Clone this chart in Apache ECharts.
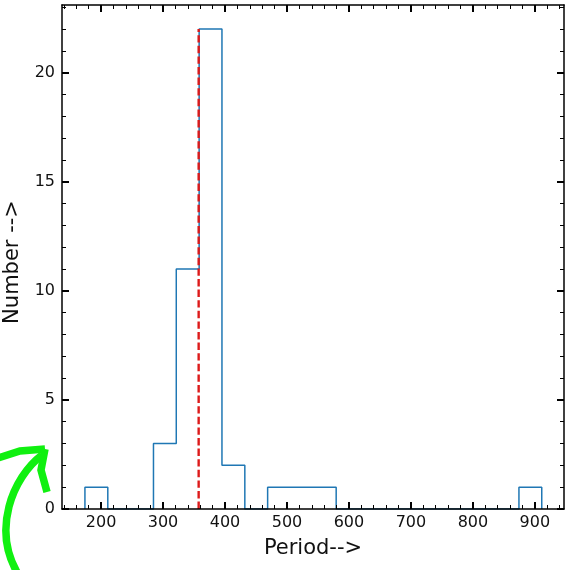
<!DOCTYPE html>
<html>
<head>
<meta charset="utf-8">
<script src="https://cdn.jsdelivr.net/npm/echarts@6/dist/echarts.min.js"></script>
<style>html,body{margin:0;padding:0;background:#fff}#c{width:577px;height:570px}</style>
</head>
<body>
<div id="c"></div>
<script>
// Histogram bin edges (Period) and counts
const binEdges = [174.0, 210.9, 247.7, 284.6, 321.4, 358.3, 395.1, 432.0, 468.8, 505.7, 542.6,
                  579.4, 616.3, 653.1, 690.0, 726.8, 763.7, 800.6, 837.4, 874.3, 911.1];
const binCounts = [1, 0, 0, 3, 11, 22, 2, 0, 1, 1, 1, 0, 0, 0, 0, 0, 0, 0, 0, 1];
// Reference (dashed red) period line
const refPeriod = 357.5;
const refTop = 22;
// Tick labels
const xTicks = [200, 300, 400, 500, 600, 700, 800, 900];
const yTicks = [0, 5, 10, 15, 20];

const xMin = 137, xMax = 947, yMin = 0, yMax = 23.1;

const xMinor = [];
for (let v = 140; v <= 940; v += 20) if (!xTicks.includes(v)) xMinor.push(v);
const yMinor = [];
for (let v = 1; v <= 23; v += 1) if (!yTicks.includes(v)) yMinor.push(v);

// step outline
const stepData = [[binEdges[0], 0]];
for (let i = 0; i < binCounts.length; i++) {
  stepData.push([binEdges[i], binCounts[i]]);
  stepData.push([binEdges[i + 1], binCounts[i]]);
}
stepData.push([binEdges[binEdges.length - 1], 0]);

const font = 'DejaVu Sans';
const tc = '#111';

function xAx(pos, ticks, len, width, labels, line) {
  return {
    type: 'value', position: pos, min: xMin, max: xMax, z: 6,
    axisLine: {show: line, onZero: false, lineStyle: {color: '#000', width: 1.5}},
    axisTick: {show: true, inside: true, length: len, customValues: ticks, lineStyle: {color: '#000', width: width}},
    axisLabel: {show: labels, customValues: ticks, margin: 6, fontFamily: font, fontSize: 16, color: tc},
    splitLine: {show: false}
  };
}
function yAx(pos, ticks, len, width, labels, line) {
  return {
    type: 'value', position: pos, min: yMin, max: yMax, z: 6,
    axisLine: {show: line, onZero: false, lineStyle: {color: '#000', width: 1.5}},
    axisTick: {show: true, inside: true, length: len, customValues: ticks, lineStyle: {color: '#000', width: width}},
    axisLabel: {show: labels, customValues: ticks, margin: 7, fontFamily: font, fontSize: 16, color: tc},
    splitLine: {show: false}
  };
}

const chart = echarts.init(document.getElementById('c'), null, {renderer: 'canvas'});
chart.setOption({
  animation: false,
  backgroundColor: '#fff',
  grid: {left: 62, right: 13, top: 5, bottom: 61, containLabel: false},
  xAxis: [
    xAx('bottom', xTicks, 7, 2, true, true),
    xAx('bottom', xMinor, 4, 1, false, false),
    xAx('top', xTicks, 7, 2, false, true),
    xAx('top', xMinor, 4, 1, false, false)
  ],
  yAxis: [
    yAx('left', yTicks, 7, 2, true, true),
    yAx('left', yMinor, 4, 1, false, false),
    yAx('right', yTicks, 7, 2, false, true),
    yAx('right', yMinor, 4, 1, false, false)
  ],
  series: [
    {
      type: 'line', xAxisIndex: 0, yAxisIndex: 0, data: stepData,
      symbol: 'none', lineStyle: {color: '#1f77b4', width: 1.5}, z: 3
    },
    {
      type: 'line', xAxisIndex: 0, yAxisIndex: 0, data: [[refPeriod, 0], [refPeriod, refTop]],
      symbol: 'none', lineStyle: {color: '#dd1a1a', width: 2.4, type: [7.4, 3.2]}, z: 4
    }
  ],
  graphic: [
    {type: 'text', x: 313, y: 549,
     style: {text: 'Period-->', align: 'center', verticalAlign: 'middle', fontFamily: font, fontSize: 21, fill: tc}},
    {type: 'text', rotation: Math.PI / 2, x: 13, y: 262,
     style: {text: 'Number -->', align: 'center', verticalAlign: 'middle', fontFamily: font, fontSize: 21, fill: tc}},
    {type: 'bezierCurve', shape: {x1: 42, y1: 455, cpx1: 12, cpy1: 478, cpx2: -8, cpy2: 530, x2: 18, y2: 574},
     style: {stroke: '#10f010', lineWidth: 7.5, fill: null}, z: 10},
    {type: 'polyline', shape: {points: [[-2, 458], [20, 451], [45, 449]]},
     style: {stroke: '#10f010', lineWidth: 7.5, fill: null}, z: 10},
    {type: 'polyline', shape: {points: [[45, 449], [41, 470], [47, 492]]},
     style: {stroke: '#10f010', lineWidth: 7.5, fill: null}, z: 10}
  ]
});
</script>
</body>
</html>
